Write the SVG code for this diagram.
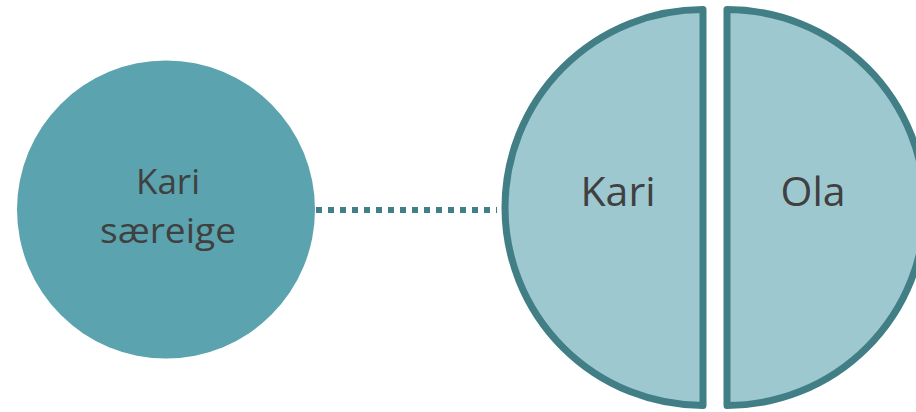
<svg xmlns="http://www.w3.org/2000/svg" width="916" height="412" viewBox="0 0 916 412">
<style>
.lbl{font-family:"Open Sans","Noto Sans","Liberation Sans",sans-serif;fill:#404040;text-anchor:middle}
.half{fill:#9DC8CF;stroke:#417E86;stroke-width:7;stroke-linejoin:round}
</style>
<rect width="916" height="412" fill="#fff"/>
<g id="connectors">
<line x1="316" y1="210" x2="497" y2="210" stroke="#417E86" stroke-width="6" stroke-dasharray="6 6"/>
</g>
<g id="kari-saereige">
<circle cx="166" cy="209.5" r="149" fill="#5BA3AE"/>
<text class="lbl" x="168" y="194" font-size="35">Kari</text>
<text class="lbl" x="168" y="243" font-size="35" textLength="136" lengthAdjust="spacingAndGlyphs">særeige</text>
</g>
<g id="kari">
<path class="half" d="M703,9.5 A198,198 0 0 0 703,405.5 Z"/>
<text class="lbl" x="618" y="206" font-size="41">Kari</text>
</g>
<g id="ola">
<path class="half" d="M727,9.5 A198,198 0 0 1 727,405.5 Z"/>
<text class="lbl" x="813" y="206" font-size="41">Ola</text>
</g>
</svg>
